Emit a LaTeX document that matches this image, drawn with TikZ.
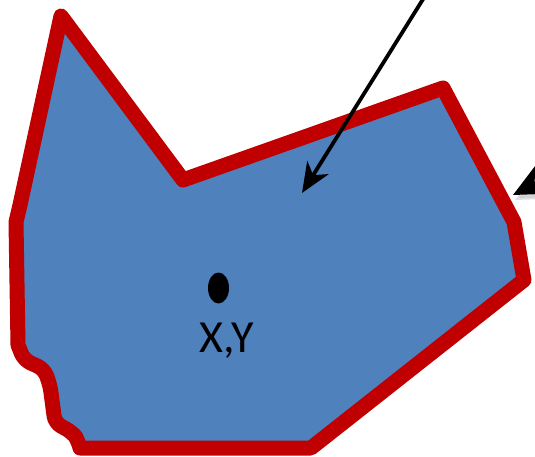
\documentclass[tikz,border=0pt]{standalone}
\usepackage{fontspec}
\setmainfont{Carlito}
\usetikzlibrary{arrows.meta,shapes.geometric}
\definecolor{fillblue}{RGB}{79,129,189}
\definecolor{edgered}{RGB}{192,0,0}
\tikzset{
  region/.style={fill=fillblue, draw=edgered, line width=15pt, line join=round},
  pointer/.style={draw=black, line width=3.8pt,
    -{Stealth[length=30pt,width=25pt,inset=9pt]}},
  bigpointer/.style={draw=black, line width=3.8pt,
    -{Stealth[length=34pt,width=32pt,inset=10pt]}},
  dotmark/.style={ellipse, fill=black, minimum width=21pt, minimum height=31pt, inner sep=0pt},
  lbl/.style={font=\fontsize{46}{50}\selectfont, inner sep=0pt}
}
\begin{document}
\begin{tikzpicture}[x=1pt,y=-1pt]
\useasboundingbox (0,0) rectangle (535,457);
\clip (0,0) rectangle (535,457);
\draw[region]
  (61,16) -- (20,205) -- (16,222) -- (18,345)
  [rounded corners=7pt] -- (24,360) -- (44,369) -- (50,385) -- (55,423) -- (72,432) -- (78,440) [sharp corners] -- (80,448)
  -- (311,448) -- (524,280) -- (514,222) -- (443,88) -- (183,180) -- cycle;
\node[dotmark] (dot) at (218.5,288) {};
\node[lbl] (xy) at (227,341) {X,Y};
\coordinate (a1s) at (430,-12);
\coordinate (a1e) at (302,193);
\draw[pointer] (a1s) -- (a1e);
\coordinate (a2s) at (600,150);
\coordinate (a2e) at (513,195);
\coordinate (a2ss) at (602,155);
\coordinate (a2es) at (515,200);
\draw[bigpointer, draw=black!25, opacity=0.5] (a2ss) -- (a2es);
\draw[bigpointer] (a2s) -- (a2e);
\end{tikzpicture}
\end{document}
